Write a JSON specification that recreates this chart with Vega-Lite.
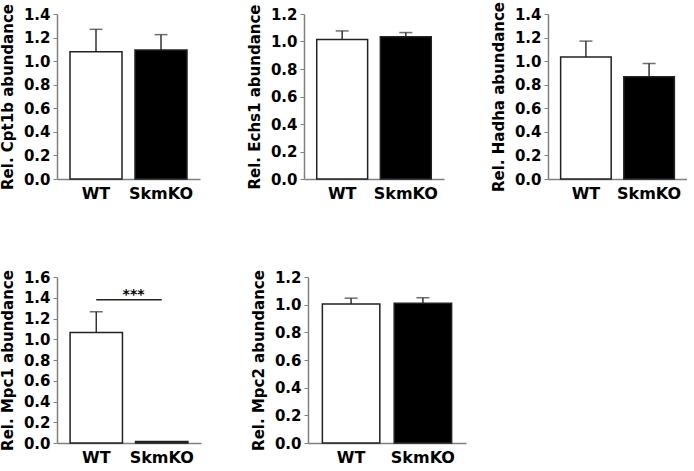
{
  "$schema": "https://vega.github.io/schema/vega-lite/v6.json",
  "padding": {"left": 0, "top": 1, "right": 0, "bottom": 0},
  "background": "white",
  "datasets": {
    "d": [
      {"gene": "Cpt1b", "group": "WT", "mean": 1.08, "upper": 1.27},
      {"gene": "Cpt1b", "group": "SkmKO", "mean": 1.095, "upper": 1.225},
      {"gene": "Echs1", "group": "WT", "mean": 1.015, "upper": 1.077},
      {"gene": "Echs1", "group": "SkmKO", "mean": 1.035, "upper": 1.065},
      {"gene": "Hadha", "group": "WT", "mean": 1.035, "upper": 1.17},
      {"gene": "Hadha", "group": "SkmKO", "mean": 0.868, "upper": 0.98},
      {"gene": "Mpc1", "group": "WT", "mean": 1.065, "upper": 1.265},
      {"gene": "Mpc1", "group": "SkmKO", "mean": 0.015, "upper": 0.015},
      {"gene": "Mpc2", "group": "WT", "mean": 1.005, "upper": 1.047},
      {"gene": "Mpc2", "group": "SkmKO", "mean": 1.01, "upper": 1.05}
    ],
    "sig": [
      {"gene": "Mpc1", "from": "WT", "to": "SkmKO", "y": 1.38, "label": "***"}
    ]
  },
  "spacing": 68,
  "vconcat": [
    {
      "bounds": "flush",
      "spacing": 104,
      "hconcat": [
        {
          "width": 143, "height": 165,
          "data": {"name": "d"},
          "transform": [{"filter": "datum.gene === 'Cpt1b'"}],
          "encoding": {"x": {"field": "group", "type": "nominal", "title": null, "scale": {"domain": ["WT", "SkmKO"], "paddingInner": 0.2, "paddingOuter": 0.2}}},
          "layer": [
            {"mark": {"type": "rule", "color": "#333333", "strokeWidth": 1.5}, "encoding": {"y": {"field": "mean", "type": "quantitative", "title": "Rel. Cpt1b abundance", "scale": {"domain": [0, 1.4], "nice": false}, "axis": {"values": [0, 0.2, 0.4, 0.6, 0.8, 1.0, 1.2, 1.4], "tickCount": 20, "format": ".1f", "labelOverlap": false}}, "y2": {"field": "upper"}}},
            {"mark": {"type": "tick", "color": "#333333", "thickness": 1.5, "size": 13}, "encoding": {"y": {"field": "upper", "type": "quantitative", "title": "Rel. Cpt1b abundance"}}},
            {"mark": {"type": "bar", "stroke": "#222222", "strokeWidth": 1.5}, "encoding": {"y": {"field": "mean", "type": "quantitative", "title": "Rel. Cpt1b abundance"}, "fill": {"field": "group", "type": "nominal", "scale": {"domain": ["WT", "SkmKO"], "range": ["white", "black"]}, "legend": null}}}
          ]
        },
        {
          "width": 140, "height": 165,
          "data": {"name": "d"},
          "transform": [{"filter": "datum.gene === 'Echs1'"}],
          "encoding": {"x": {"field": "group", "type": "nominal", "title": null, "scale": {"domain": ["WT", "SkmKO"], "paddingInner": 0.2, "paddingOuter": 0.2}}},
          "layer": [
            {"mark": {"type": "rule", "color": "#333333", "strokeWidth": 1.5}, "encoding": {"y": {"field": "mean", "type": "quantitative", "title": "Rel. Echs1 abundance", "scale": {"domain": [0, 1.2], "nice": false}, "axis": {"values": [0, 0.2, 0.4, 0.6, 0.8, 1.0, 1.2], "tickCount": 20, "format": ".1f", "labelOverlap": false}}, "y2": {"field": "upper"}}},
            {"mark": {"type": "tick", "color": "#333333", "thickness": 1.5, "size": 13}, "encoding": {"y": {"field": "upper", "type": "quantitative", "title": "Rel. Echs1 abundance"}}},
            {"mark": {"type": "bar", "stroke": "#222222", "strokeWidth": 1.5}, "encoding": {"y": {"field": "mean", "type": "quantitative", "title": "Rel. Echs1 abundance"}, "fill": {"field": "group", "type": "nominal", "scale": {"domain": ["WT", "SkmKO"], "range": ["white", "black"]}, "legend": null}}}
          ]
        },
        {
          "width": 139, "height": 165,
          "data": {"name": "d"},
          "transform": [{"filter": "datum.gene === 'Hadha'"}],
          "encoding": {"x": {"field": "group", "type": "nominal", "title": null, "scale": {"domain": ["WT", "SkmKO"], "paddingInner": 0.2, "paddingOuter": 0.2}}},
          "layer": [
            {"mark": {"type": "rule", "color": "#333333", "strokeWidth": 1.5}, "encoding": {"y": {"field": "mean", "type": "quantitative", "title": "Rel. Hadha abundance", "scale": {"domain": [0, 1.4], "nice": false}, "axis": {"values": [0, 0.2, 0.4, 0.6, 0.8, 1.0, 1.2, 1.4], "tickCount": 20, "format": ".1f", "labelOverlap": false}}, "y2": {"field": "upper"}}},
            {"mark": {"type": "tick", "color": "#333333", "thickness": 1.5, "size": 13}, "encoding": {"y": {"field": "upper", "type": "quantitative", "title": "Rel. Hadha abundance"}}},
            {"mark": {"type": "bar", "stroke": "#222222", "strokeWidth": 1.5}, "encoding": {"y": {"field": "mean", "type": "quantitative", "title": "Rel. Hadha abundance"}, "fill": {"field": "group", "type": "nominal", "scale": {"domain": ["WT", "SkmKO"], "range": ["white", "black"]}, "legend": null}}}
          ]
        }
      ]
    },
    {
      "bounds": "flush",
      "spacing": 107,
      "hconcat": [
        {
          "width": 144, "height": 166,
          "layer": [
            {
              "data": {"name": "d"},
              "transform": [{"filter": "datum.gene === 'Mpc1'"}],
              "encoding": {"x": {"field": "group", "type": "nominal", "title": null, "scale": {"domain": ["WT", "SkmKO"], "paddingInner": 0.2, "paddingOuter": 0.2}}},
              "layer": [
                {"mark": {"type": "rule", "color": "#333333", "strokeWidth": 1.5}, "encoding": {"y": {"field": "mean", "type": "quantitative", "title": "Rel. Mpc1 abundance", "scale": {"domain": [0, 1.6], "nice": false}, "axis": {"values": [0, 0.2, 0.4, 0.6, 0.8, 1.0, 1.2, 1.4, 1.6], "tickCount": 20, "format": ".1f", "labelOverlap": false}}, "y2": {"field": "upper"}}},
                {"mark": {"type": "tick", "color": "#333333", "thickness": 1.5, "size": 13}, "transform": [{"filter": "datum.upper > datum.mean"}], "encoding": {"y": {"field": "upper", "type": "quantitative", "title": "Rel. Mpc1 abundance"}}},
                {"mark": {"type": "bar", "stroke": "#222222", "strokeWidth": 1.5}, "encoding": {"y": {"field": "mean", "type": "quantitative", "title": "Rel. Mpc1 abundance"}, "fill": {"field": "group", "type": "nominal", "scale": {"domain": ["WT", "SkmKO"], "range": ["white", "black"]}, "legend": null}}}
              ]
            },
            {
              "data": {"name": "sig"},
              "mark": {"type": "rule", "color": "#222222", "strokeWidth": 1.5},
              "encoding": {
                "x": {"field": "from", "type": "nominal", "title": null, "scale": {"domain": ["WT", "SkmKO"]}},
                "x2": {"field": "to"},
                "y": {"field": "y", "type": "quantitative", "title": "Rel. Mpc1 abundance"}
              }
            },
            {
              "data": {"name": "sig"},
              "mark": {"type": "text", "font": "DejaVu Sans", "fontWeight": "bold", "fontSize": 14, "baseline": "alphabetic", "dy": -1, "dx": -2, "color": "black"},
              "encoding": {
                "x": {"field": "to", "type": "nominal", "title": null, "scale": {"domain": ["WT", "SkmKO"]}, "bandPosition": 0},
                "y": {"field": "y", "type": "quantitative", "title": "Rel. Mpc1 abundance"},
                "text": {"field": "label"}
              }
            }
          ]
        },
        {
          "width": 158, "height": 166,
          "data": {"name": "d"},
          "transform": [{"filter": "datum.gene === 'Mpc2'"}],
          "encoding": {"x": {"field": "group", "type": "nominal", "title": null, "scale": {"domain": ["WT", "SkmKO"], "paddingInner": 0.2, "paddingOuter": 0.2}}},
          "layer": [
            {"mark": {"type": "rule", "color": "#333333", "strokeWidth": 1.5}, "encoding": {"y": {"field": "mean", "type": "quantitative", "title": "Rel. Mpc2 abundance", "scale": {"domain": [0, 1.2], "nice": false}, "axis": {"values": [0, 0.2, 0.4, 0.6, 0.8, 1.0, 1.2], "tickCount": 20, "format": ".1f", "labelOverlap": false}}, "y2": {"field": "upper"}}},
            {"mark": {"type": "tick", "color": "#333333", "thickness": 1.5, "size": 13}, "encoding": {"y": {"field": "upper", "type": "quantitative", "title": "Rel. Mpc2 abundance"}}},
            {"mark": {"type": "bar", "stroke": "#222222", "strokeWidth": 1.5}, "encoding": {"y": {"field": "mean", "type": "quantitative", "title": "Rel. Mpc2 abundance"}, "fill": {"field": "group", "type": "nominal", "scale": {"domain": ["WT", "SkmKO"], "range": ["white", "black"]}, "legend": null}}}
          ]
        }
      ]
    }
  ],
  "config": {
    "view": {"stroke": null},
    "font": "DejaVu Sans",
    "axis": {"labelFont": "DejaVu Sans", "labelFontWeight": "bold", "labelColor": "black", "titleFont": "DejaVu Sans", "titleFontWeight": "bold", "titleColor": "black", "domainColor": "#808080", "tickColor": "#808080", "grid": false},
    "axisY": {"labelFontSize": 15, "tickSize": 4, "labelPadding": 3, "titleFontSize": 15, "titlePadding": 8, "domainWidth": 1.5, "labelOverlap": false},
    "axisX": {"labelFontSize": 16, "ticks": false, "labelPadding": 6, "labelAngle": 0, "domainWidth": 1.5}
  }
}
